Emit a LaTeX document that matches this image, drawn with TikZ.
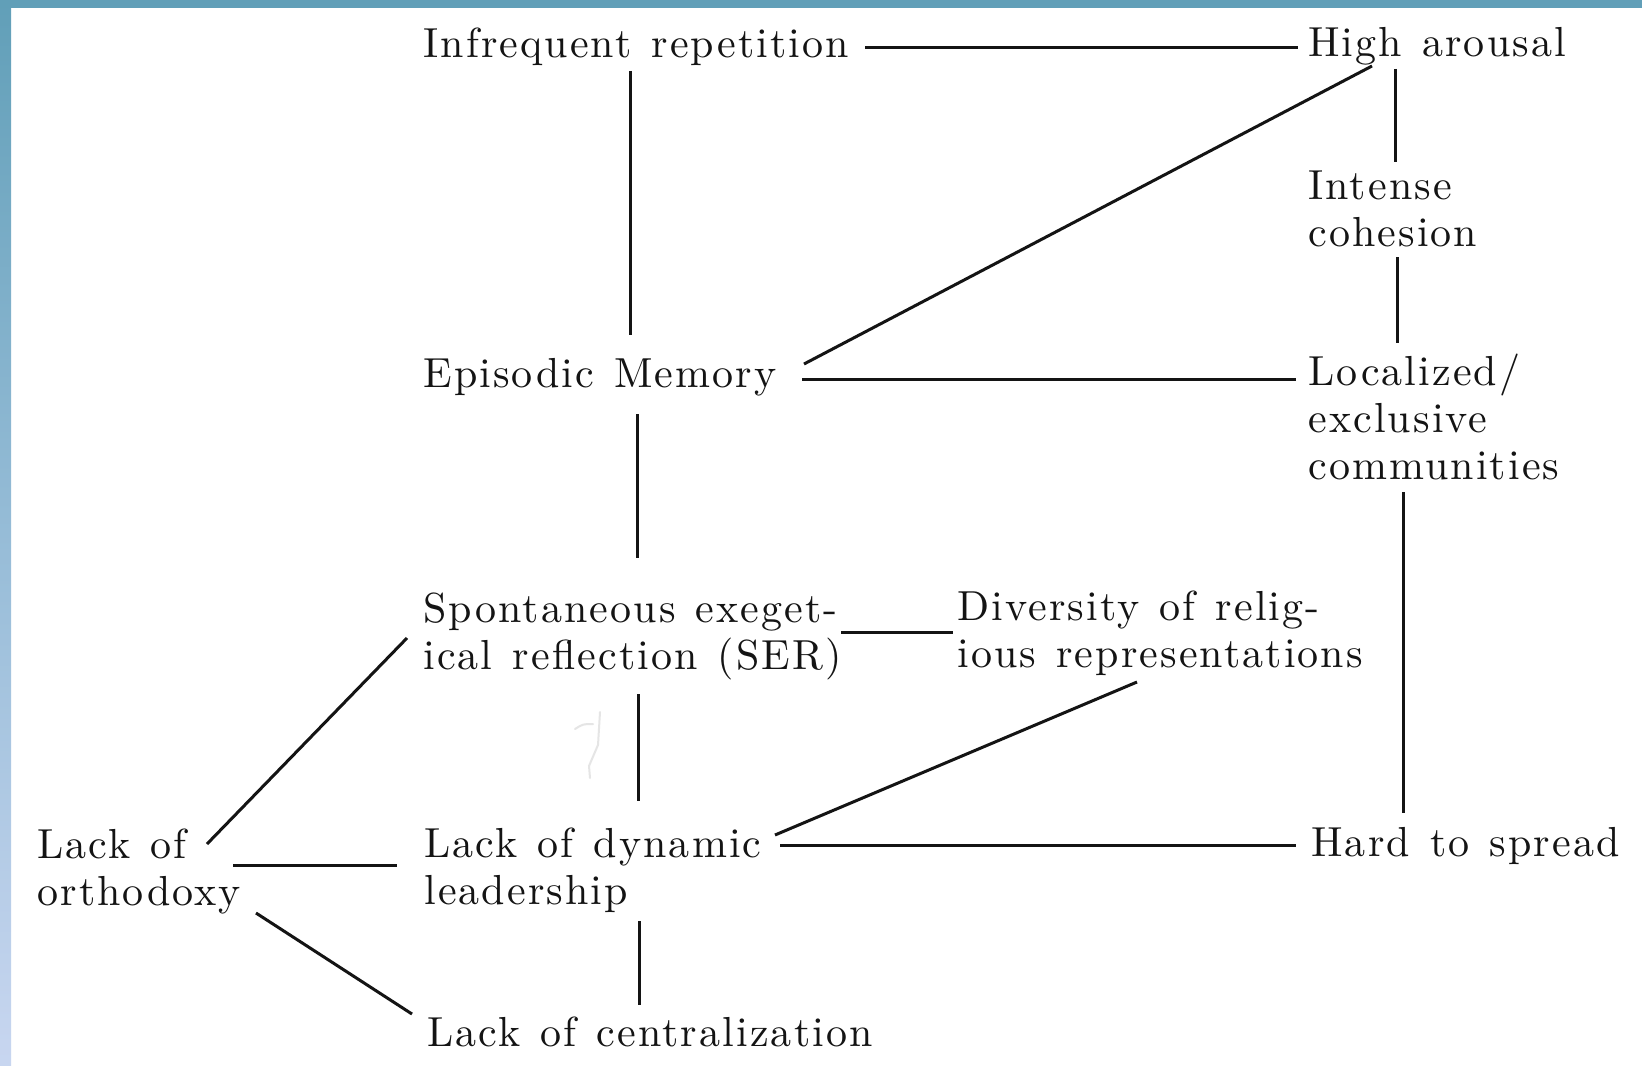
\documentclass[tikz,border=0pt]{standalone}
\usepackage{fontspec}
\newfontfamily\lblfam{lmroman10-regular}[Extension=.otf, LetterSpace=5, WordSpace=1.25]
\newcommand\lblfont{\lblfam\fontsize{21pt}{23.3pt}\selectfont}
\definecolor{barblue}{RGB}{97,159,184}
\definecolor{barmid}{RGB}{150,188,215}
\definecolor{barlow}{RGB}{200,214,240}
\definecolor{inkc}{RGB}{20,20,20}
\begin{document}
\begin{tikzpicture}[x=0.5pt,y=-0.5pt,
  lbl/.style={anchor=base west, inner sep=0pt, align=left, font=\lblfont, text=inkc},
  conn/.style={line width=1.5pt, draw=inkc}]
\useasboundingbox (0,0) rectangle (1642,1065);
\fill[white] (0,0) rectangle (1642,1065);
\shade[top color=barblue, bottom color=barlow, middle color=barmid] (0,0) rectangle (11,1065);
\fill[barblue] (0,0) rectangle (1642,8);

% base west of a multi-line node = baseline of its last line
\node[lbl] (inf) at (423,58) {Infrequent repetition};
\node[lbl] (high) at (1308,57) {High arousal};
\node[lbl] (int) at (1308,246) {Intense\\cohesion};
\node[lbl] (ep) at (423,387) {Episodic Memory};
\node[lbl] (loc) at (1308,479) {Localized/\\exclusive\\communities};
\node[lbl] (ser) at (423,669) {Spontaneous exeget-\\ical reflection (SER)};
\node[lbl] (div) at (957,667) {Diversity of relig-\\ious representations};
\node[lbl] (orth) at (37,905) {Lack of\\orthodoxy};
\node[lbl] (dyn) at (424,904) {Lack of dynamic\\leadership};
\node[lbl] (hard) at (1311,856) {Hard to spread};
\node[lbl] (cent) at (427,1046) {Lack of centralization};

\draw[conn] ([shift={(442,-10)}]inf.base west) -- ([shift={(-10,-9)}]high.base west);
\draw[conn] ([shift={(207,13)}]inf.base west) -- ([shift={(207,-52)}]ep.base west);
\draw[conn] ([shift={(87,12)}]high.base west) -- ([shift={(87,-84)}]int.base west);
\draw[conn] ([shift={(89,11)}]int.base west) -- ([shift={(89,-136)}]loc.base west);
\draw[conn] ([shift={(381,-23)}]ep.base west) -- ([shift={(64,9)}]high.base west);
\draw[conn] ([shift={(379,-8)}]ep.base west) -- ([shift={(-12,-100)}]loc.base west);
\draw[conn] ([shift={(214,27)}]ep.base west) -- ([shift={(214,-111)}]ser.base west);
\draw[conn] ([shift={(95,13)}]loc.base west) -- ([shift={(92,-43)}]hard.base west);
\draw[conn] ([shift={(418,-37)}]ser.base west) -- ([shift={(-4,-35)}]div.base west);
\draw[conn] ([shift={(215,25)}]ser.base west) -- ([shift={(214,-103)}]dyn.base west);
\draw[conn] ([shift={(-16,-31)}]ser.base west) -- ([shift={(170,-61)}]orth.base west);
\draw[conn] ([shift={(180,15)}]div.base west) -- ([shift={(351,-69)}]dyn.base west);
\draw[conn] ([shift={(356,-59)}]dyn.base west) -- ([shift={(-15,-11)}]hard.base west);
\draw[conn] ([shift={(196,-40)}]orth.base west) -- ([shift={(-27,-39)}]dyn.base west);
\draw[conn] ([shift={(219,8)}]orth.base west) -- ([shift={(-15,-32)}]cent.base west);
\draw[conn] ([shift={(215,17)}]dyn.base west) -- ([shift={(212,-41)}]cent.base west);

\draw[gray!20, line width=1pt, line cap=round] (575,729) .. controls (583,724) .. (593,724);
\draw[gray!20, line width=1pt, line cap=round] (600,712) -- (598,745) -- (589,766) -- (590,778);
\end{tikzpicture}
\end{document}
